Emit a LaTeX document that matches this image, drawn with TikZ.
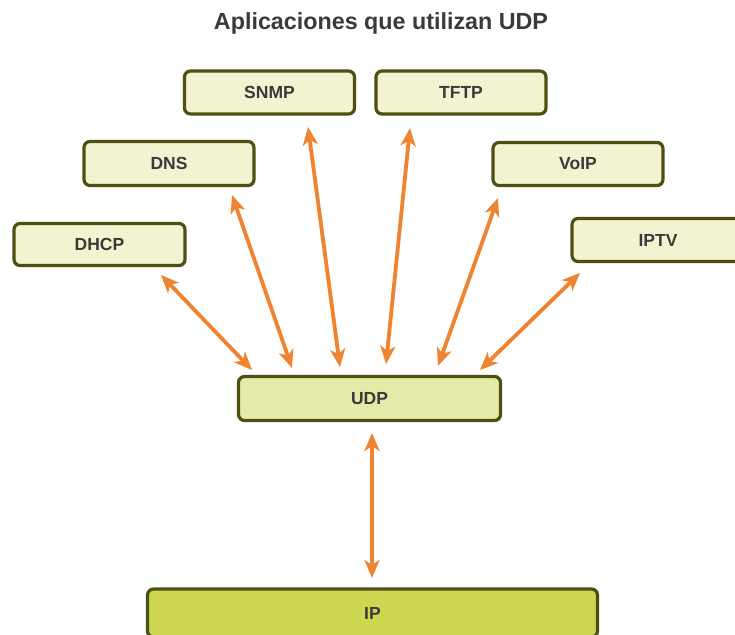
\documentclass[tikz,border=0pt]{standalone}
\usepackage{fontspec}
\setmainfont{Liberation Sans}
\usetikzlibrary{arrows.meta,calc}
\definecolor{boxline}{HTML}{4F4F12}
\definecolor{appfill}{HTML}{F3F3D2}
\definecolor{udpfill}{HTML}{E4EBA8}
\definecolor{ipfill}{HTML}{CDD752}
\definecolor{arrcol}{HTML}{F0832F}
\definecolor{txtcol}{HTML}{3A3A3A}
\tikzset{
  appbox/.style={draw=boxline, line width=3.2pt, rounded corners=6pt, fill=appfill,
    minimum width=170pt, minimum height=43pt, inner sep=0pt,
    font=\fontsize{17.5}{20}\selectfont\bfseries, text=txtcol},
  arr/.style={draw=arrcol, line width=3.8pt,
    {Stealth[length=18pt,width=15pt,inset=5pt]}-{Stealth[length=18pt,width=15pt,inset=5pt]}},
}
\begin{document}
\begin{tikzpicture}[x=1pt,y=-1pt]
\useasboundingbox (0,0) rectangle (735,634);
\fill[white] (0,0) rectangle (735,634);
\node[font=\fontsize{23.3}{27}\selectfont\bfseries, text=txtcol] (title) at (381,23) {Aplicaciones que utilizan UDP};
\node[appbox] (snmp) at (269.5,92.5) {SNMP};
\node[appbox] (tftp) at (461,92.5) {TFTP};
\node[appbox, minimum height=44pt] (dns) at (169,163.5) {DNS};
\node[appbox, minimum width=171pt, minimum height=42pt] (dhcp) at (99.5,244.5) {DHCP};
\node[appbox] (voip) at (578,164) {VoIP};
\node[appbox, minimum width=172pt] (iptv) at (658,240) {IPTV};
\node[appbox, fill=udpfill, minimum width=262pt, minimum height=44pt] (udp) at (369.5,398.5) {UDP};
\node[appbox, fill=ipfill, minimum width=450pt, minimum height=48pt] (ip) at (372.5,613) {IP};
\draw[arr] ($(dhcp.center)+(61.5,30.5)$) -- ($(udp.center)+(-117.5,-28.5)$);
\draw[arr] ($(dns.center)+(63,31.5)$) -- ($(udp.center)+(-77.5,-30.5)$);
\draw[arr] ($(snmp.center)+(38.5,34.5)$) -- ($(udp.center)+(-29.5,-31.5)$);
\draw[arr] ($(tftp.center)+(-51,35.5)$) -- ($(udp.center)+(16.5,-34.5)$);
\draw[arr] ($(voip.center)+(-80,34)$) -- ($(udp.center)+(68.5,-32.5)$);
\draw[arr] ($(iptv.center)+(-78,33)$) -- ($(udp.center)+(110.5,-28.5)$);
\draw[arr] ($(udp.center)+(2.5,34.5)$) -- ($(ip.center)+(-0.5,-35)$);
\end{tikzpicture}
\end{document}
